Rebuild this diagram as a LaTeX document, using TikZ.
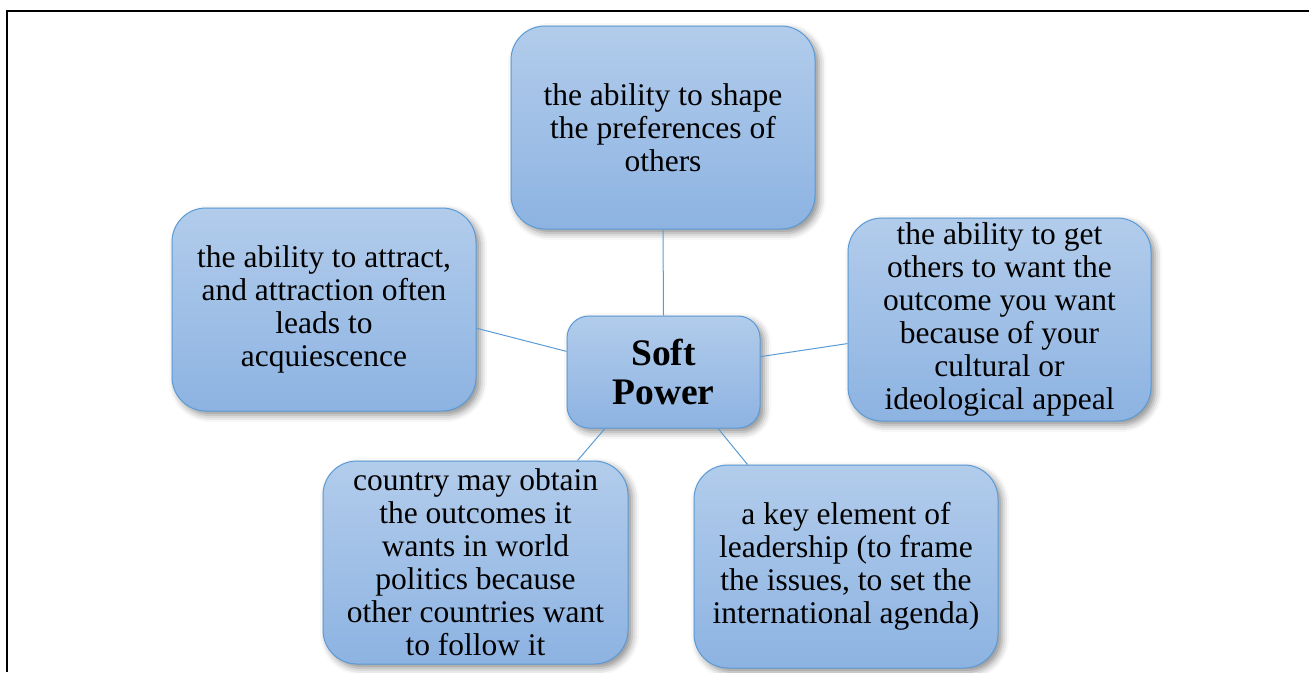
\documentclass[tikz,border=0pt]{standalone}
\usepackage{fontspec}
\setmainfont{Liberation Serif}
\usetikzlibrary{shadows.blur,calc}
\definecolor{boxtop}{HTML}{B2CCEB}
\definecolor{boxbot}{HTML}{8DB3E2}
\definecolor{boxline}{HTML}{5B9BD5}
\tikzset{
  idea/.style={rectangle, rounded corners=34pt, draw=boxline, line width=1pt,
    top color=boxtop, bottom color=boxbot,
    blur shadow={shadow xshift=4pt, shadow yshift=-4pt, shadow blur radius=7pt, shadow opacity=45},
    minimum width=304pt, minimum height=203pt, inner sep=0pt,
    align=center, font=\fontsize{31.5}{33}\selectfont},
  hub/.style={idea, rounded corners=22pt, minimum width=193pt, minimum height=112pt,
    font=\fontsize{37.5}{39}\selectfont\bfseries},
  link/.style={draw=boxline, line width=1pt}
}
\begin{document}
\begin{tikzpicture}[x=1pt,y=-1pt]
\useasboundingbox (0,0) rectangle (1309,672);
% frame
\draw[line width=2pt] (6.5,672) -- (6.5,10.5) -- (1309,10.5);
% nodes
\node[idea] (shape) at (663,127.5) {the ability to shape\\the preferences of\\others};
\node[idea] (attract) at (324,309.5) {the ability to attract,\\and attraction often\\leads to\\acquiescence};
\node[idea, minimum width=303pt] (appeal) at (999.5,319.5) {the ability to get\\others to want the\\outcome you want\\because of your\\cultural or\\ideological appeal};
\node[idea, minimum width=305pt] (follow) at (475.5,562.5) {country may obtain\\the outcomes it\\wants in world\\politics because\\other countries want\\to follow it};
\node[idea] (lead) at (846,566.5) {a key element of\\leadership (to frame\\the issues, to set the\\international agenda)};
\node[hub] (soft) at (663.5,372) {Soft\\Power};
% connectors
\draw[link] (shape.south) -- (soft.north);
\draw[link] (attract.-7.7) -- (soft.168.9);
\draw[link] (soft.9.4) -- (appeal.-171.6);
\draw[link] (soft.224.7) -- (follow.45.3);
\draw[link] (soft.-46.8) -- (lead.134);
\end{tikzpicture}
\end{document}
